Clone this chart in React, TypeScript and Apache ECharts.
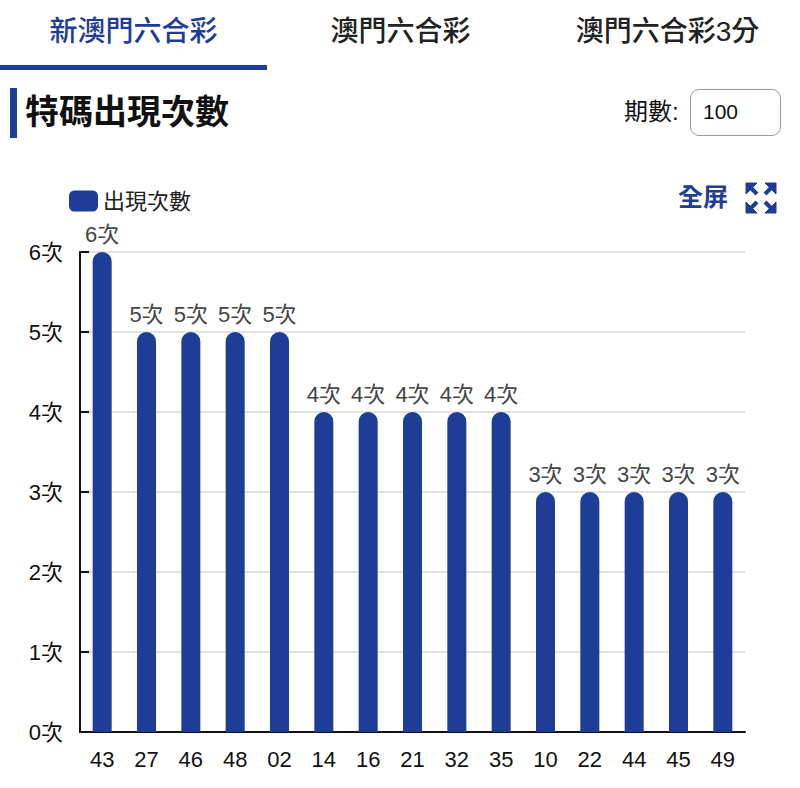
import React, { useEffect, useRef } from "react";
import * as echarts from "echarts";

const categories = ["43", "27", "46", "48", "02", "14", "16", "21", "32", "35", "10", "22", "44", "45", "49"];
const counts = [6, 5, 5, 5, 5, 4, 4, 4, 4, 4, 3, 3, 3, 3, 3];
const tabs = ["新澳門六合彩", "澳門六合彩", "澳門六合彩3分"];
const seriesName = "出現次數";

const FONT = '"Liberation Sans", "Noto Sans CJK TC", sans-serif';
const BLUE = "#1e3d96";

export default function App() {
  const ref = useRef<HTMLDivElement>(null);
  useEffect(() => {
    document.body.style.margin = "0";
    const chart = echarts.init(ref.current!, null, { renderer: "svg" });
    chart.setOption({
      animation: false,
      textStyle: { fontFamily: FONT },
      legend: {
        left: 64,
        top: 25,
        itemWidth: 29,
        itemHeight: 21,
        itemGap: 12,
        icon: "roundRect",
        textStyle: { fontSize: 22, color: "#222", fontFamily: FONT },
        data: [seriesName],
      },
      grid: { left: 80, right: 55, top: 92, bottom: 56, containLabel: false },
      xAxis: {
        type: "category",
        data: categories,
        axisLine: { lineStyle: { color: "#111", width: 2 } },
        axisTick: { length: 10, lineStyle: { color: "#111", width: 2 } },
        axisLabel: { fontSize: 22, color: "#111", margin: 16, fontFamily: FONT },
      },
      yAxis: {
        type: "value",
        min: 0,
        max: 6,
        interval: 1,
        axisLine: { show: true, lineStyle: { color: "#111", width: 2 } },
        axisTick: { show: true, inside: true, length: 9, lineStyle: { color: "#111", width: 2 } },
        axisLabel: { fontSize: 22, color: "#111", margin: 17, formatter: "{value}次", fontFamily: FONT },
        splitLine: { lineStyle: { color: "#e2e2e2", width: 2 } },
      },
      series: [
        {
          name: seriesName,
          type: "bar",
          data: counts,
          barWidth: 19,
          itemStyle: { color: BLUE, borderRadius: [10, 10, 0, 0] },
          label: {
            show: true,
            position: "top",
            distance: 7,
            formatter: "{c}次",
            fontSize: 22,
            color: "#444",
            fontFamily: FONT,
          },
        },
      ],
    });
    return () => chart.dispose();
  }, []);

  return (
    <div style={{ position: "absolute", left: 0, top: 0, width: 800, height: 788, background: "#fff", fontFamily: FONT, overflow: "hidden" }}>
      {tabs.map((t, i) => (
        <div
          key={t}
          style={{
            position: "absolute",
            left: i * 267,
            top: 10,
            width: 267,
            height: 44,
            lineHeight: "44px",
            textAlign: "center",
            fontSize: 28,
            fontWeight: 500,
            color: i === 0 ? BLUE : "#222",
          }}
        >
          {t}
        </div>
      ))}
      <div style={{ position: "absolute", left: 0, top: 65, width: 267, height: 5, background: BLUE }} />
      <div style={{ position: "absolute", left: 10, top: 88, width: 7, height: 50, background: BLUE }} />
      <div style={{ position: "absolute", left: 25, top: 90, height: 44, lineHeight: "44px", fontSize: 34, fontWeight: 700, color: "#111" }}>
        特碼出現次數
      </div>
      <div style={{ position: "absolute", left: 624, top: 94, height: 36, lineHeight: "36px", fontSize: 24, color: "#111" }}>期數:</div>
      <div
        style={{
          position: "absolute",
          left: 690,
          top: 89,
          width: 91,
          height: 47,
          border: "1.5px solid #9a9a9a",
          borderRadius: 9,
          lineHeight: "44px",
          paddingLeft: 12,
          boxSizing: "border-box",
          fontSize: 21,
          color: "#111",
        }}
      >
        100
      </div>
      <div style={{ position: "absolute", left: 678, top: 179, height: 36, lineHeight: "36px", fontSize: 25, fontWeight: 700, color: BLUE }}>全屏</div>
      <svg style={{ position: "absolute", left: 745, top: 182 }} width={32} height={32} viewBox="0 0 32 32">
        <g fill={BLUE} stroke={BLUE}>
          <polygon points="1,1 12,1 1,12" />
          <polygon points="31,1 20,1 31,12" />
          <polygon points="1,31 12,31 1,20" />
          <polygon points="31,31 20,31 31,20" />
          <line x1="3" y1="3" x2="12" y2="12" strokeWidth="4" />
          <line x1="29" y1="3" x2="20" y2="12" strokeWidth="4" />
          <line x1="3" y1="29" x2="12" y2="20" strokeWidth="4" />
          <line x1="29" y1="29" x2="20" y2="20" strokeWidth="4" />
        </g>
      </svg>
      <div ref={ref} style={{ position: "absolute", left: 0, top: 160, width: 800, height: 628 }} />
    </div>
  );
}
